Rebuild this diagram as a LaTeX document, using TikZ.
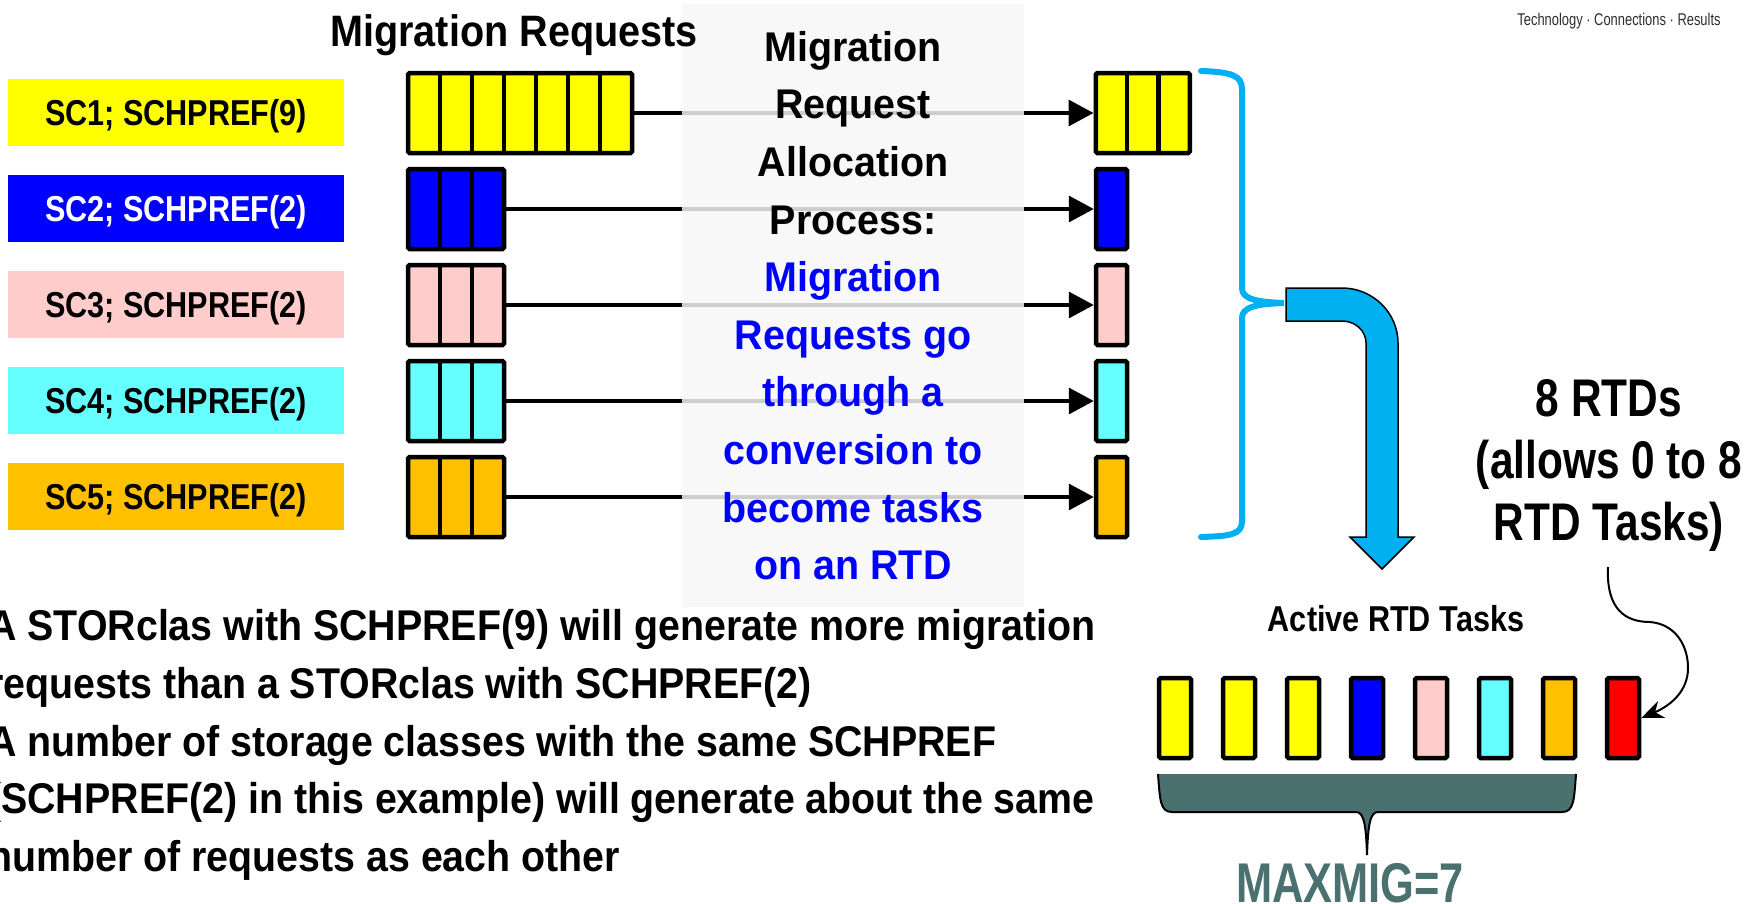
\documentclass[tikz,border=0pt]{standalone}
\usepackage{fontspec}
\setmainfont{Liberation Sans}
\newfontfamily\fTitle[FakeStretch=0.90]{Liberation Sans}
\newfontfamily\fLabel[FakeStretch=0.85]{Liberation Sans}
\newfontfamily\fCenter[FakeStretch=0.95]{Liberation Sans}
\newfontfamily\fNote[FakeStretch=0.80]{Liberation Sans}
\newfontfamily\fBody[FakeStretch=0.915]{Liberation Sans}
\newfontfamily\fMax[FakeStretch=0.775]{Liberation Sans}
\newfontfamily\fTag[FakeStretch=0.76]{Liberation Sans}
\usetikzlibrary{arrows.meta}

\definecolor{scYellow}{HTML}{FFFF00}
\definecolor{scBlue}{HTML}{0000FF}
\definecolor{scPink}{HTML}{FFCCCC}
\definecolor{scCyan}{HTML}{66FFFF}
\definecolor{scOrange}{HTML}{FFC000}
\definecolor{scRed}{HTML}{FF0000}
\definecolor{braceBlue}{HTML}{00B0F0}
\definecolor{procGray}{HTML}{F7F7F7}
\definecolor{procBlue}{HTML}{0000FF}
\definecolor{maxTeal}{HTML}{4A7070}
\definecolor{tagGray}{HTML}{2E2E2E}

\begin{document}
\begin{tikzpicture}[x=1pt,y=-1pt,
  sclabel/.style={minimum width=336pt,minimum height=67pt,inner sep=0pt,
    text height=25.8pt,text depth=0pt,
    font=\fLabel\bfseries\fontsize{36}{40}\selectfont},
  cellbox/.style={draw=black,line width=4.5pt,minimum height=80pt,
    inner sep=0pt,outer sep=0pt,rounded corners=1.5pt},
  divider/.style={line width=4.5pt},
  flow/.style={line width=3.5pt,shorten >=2.25pt,
    -{Triangle[length=25pt,width=26pt]}},
  taskbox/.style={draw=black,line width=4.5pt,minimum width=32pt,
    minimum height=80pt,inner sep=0pt,rounded corners=1.5pt},
]
\useasboundingbox (0,0) rectangle (1761,903);
\fill[white] (0,0) rectangle (1761,903);

% storage class labels
\node[sclabel,fill=scYellow] (l1) at (176,112.5) {SC1; SCHPREF(9)};
\node[sclabel,fill=scBlue,text=white] (l2) at (176,208.5) {SC2; SCHPREF(2)};
\node[sclabel,fill=scPink] (l3) at (176,304.5) {SC3; SCHPREF(2)};
\node[sclabel,fill=scCyan] (l4) at (176,400.5) {SC4; SCHPREF(2)};
\node[sclabel,fill=scOrange] (l5) at (176,496.5) {SC5; SCHPREF(2)};

% migration request queues
\node[cellbox,fill=scYellow,minimum width=224pt] (q1) at (520,113) {};
\node[cellbox,fill=scBlue,minimum width=96pt] (q2) at (456,209) {};
\node[cellbox,fill=scPink,minimum width=96pt] (q3) at (456,305) {};
\node[cellbox,fill=scCyan,minimum width=96pt] (q4) at (456,401) {};
\node[cellbox,fill=scOrange,minimum width=96pt] (q5) at (456,497) {};
\foreach \k in {1,...,6}
  \draw[divider] ([xshift=\k*32pt]q1.north west) -- ([xshift=\k*32pt]q1.south west);
\foreach \q in {q2,q3,q4,q5}
  \foreach \k in {1,2}
    \draw[divider] ([xshift=\k*32pt]\q.north west) -- ([xshift=\k*32pt]\q.south west);

% converted RTD tasks per class
\node[cellbox,fill=scYellow,minimum width=94pt] (o1) at (1142.75,113) {};
\node[cellbox,fill=scBlue,minimum width=31pt] (o2) at (1111.5,209) {};
\node[cellbox,fill=scPink,minimum width=31pt] (o3) at (1111.5,305) {};
\node[cellbox,fill=scCyan,minimum width=31pt] (o4) at (1111.5,401) {};
\node[cellbox,fill=scOrange,minimum width=31pt] (o5) at (1111.5,497) {};
\foreach \k in {1,2}
  \draw[divider] ([xshift=\k*31.333pt]o1.north west) -- ([xshift=\k*31.333pt]o1.south west);

% request flows
\foreach \i in {1,...,5}
  \draw[flow] (q\i.east) -- (o\i.west);

% allocation process panel
\node[fill=procGray,fill opacity=0.83,minimum width=342pt,minimum height=603pt,
  inner sep=0pt,anchor=north west] (procbox) at (682,4) {};
\node[anchor=north,align=center,inner sep=0pt,
  font=\fCenter\bfseries\fontsize{41.5}{57.6}\selectfont] (proc) at (853,31)
  {Migration\\Request\\Allocation\\Process:\\
   \textcolor{procBlue}{Migration}\\\textcolor{procBlue}{Requests go}\\
   \textcolor{procBlue}{through a}\\\textcolor{procBlue}{conversion to}\\
   \textcolor{procBlue}{become tasks}\\\textcolor{procBlue}{on an RTD}};

% queue heading, set over the panel edge
\node[anchor=base,font=\fTitle\bfseries\fontsize{44}{48}\selectfont] (mrtitle) at (514,46.5) {Migration Requests};

% brace gathering the converted tasks
\coordinate (bracetip) at (1284,303);
\draw[braceBlue,line width=6pt,line cap=round]
  (1201,71) .. controls (1230,72) and (1242,75) .. (1242,89)
  -- (1242,288) .. controls (1242,299) and (1256,302) .. (bracetip)
  .. controls (1256,304) and (1242,307) .. (1242,318)
  -- (1242,521) .. controls (1242,535) and (1230,536) .. (1201,537);

% bent block arrow down to the active tasks
\filldraw[fill=braceBlue,draw=black,line width=1.5pt,line join=miter]
  (1286,288) -- (1342,288) .. controls (1372.9,288) and (1398,312.9) .. (1398,343)
  -- (1398,537) -- (1414,537) -- (1382,569) -- (1350,537) -- (1366,537)
  -- (1366,343) .. controls (1366,330.8) and (1355.3,321) .. (1342,321)
  -- (1286,321) -- cycle;

% RTD note
\node[anchor=north,align=center,inner sep=0pt,
  font=\fNote\bfseries\fontsize{53}{62}\selectfont] (rtd) at (1609,379)
  {8 RTDs\\(allows 0 to 8\\RTD Tasks)};

% active RTD tasks
\node[anchor=base,font=\fLabel\bfseries\fontsize{36}{40}\selectfont] (acttitle) at (1396,631.7) {Active RTD Tasks};
\node[taskbox,fill=scYellow] (t1) at (1175,718) {};
\node[taskbox,fill=scYellow] (t2) at (1239,718) {};
\node[taskbox,fill=scYellow] (t3) at (1303,718) {};
\node[taskbox,fill=scBlue] (t4) at (1367,718) {};
\node[taskbox,fill=scPink] (t5) at (1431,718) {};
\node[taskbox,fill=scCyan] (t6) at (1495,718) {};
\node[taskbox,fill=scOrange] (t7) at (1559,718) {};
\node[taskbox,fill=scRed] (t8) at (1623,718) {};

\coordinate (curlstart) at (1608,567);
\draw[line width=2pt,-{Stealth[length=22pt,width=18pt,inset=7pt]}]
  (curlstart) .. controls (1606,610) and (1626,622) .. (1650,622)
  .. controls (1675,624) and (1688,645) .. (1688,668)
  .. controls (1688,690) and (1672,705) .. (t8.east);

% MAXMIG bracket
\fill[maxTeal]
  (1158,774) .. controls (1160,800) and (1160,812) .. (1172,812)
  -- (1356,812) .. controls (1364,812) and (1366,825) .. (1367,855)
  .. controls (1368,825) and (1370,812) .. (1378,812)
  -- (1562,812) .. controls (1574,812) and (1574,800) .. (1576,774) -- cycle;
\draw[black,line width=2pt]
  (1158,774) .. controls (1160,800) and (1160,812) .. (1172,812)
  -- (1356,812) .. controls (1364,812) and (1366,825) .. (1367,855)
  .. controls (1368,825) and (1370,812) .. (1378,812)
  -- (1562,812) .. controls (1574,812) and (1574,800) .. (1576,774);
\node[anchor=base,text=maxTeal,font=\fMax\bfseries\fontsize{56}{60}\selectfont] (maxmig) at (1350,902) {MAXMIG=7};

% explanatory text
\node[anchor=north west,align=left,inner sep=0pt,
  font=\fBody\bfseries\fontsize{43}{57.7}\selectfont] (notes) at (-12,609.4)
  {A STORclas with SCHPREF(9) will generate more migration\\
   requests than a STORclas with SCHPREF(2)\\
   A number of storage classes with the same SCHPREF\\
   (SCHPREF(2) in this example) will generate about the same\\
   number of requests as each other};

% tagline
\node[anchor=base,text=tagGray,font=\fTag\fontsize{17}{20}\selectfont] (tag) at (1619,25) {Technology {\textperiodcentered} Connections {\textperiodcentered} Results};
\end{tikzpicture}
\end{document}
